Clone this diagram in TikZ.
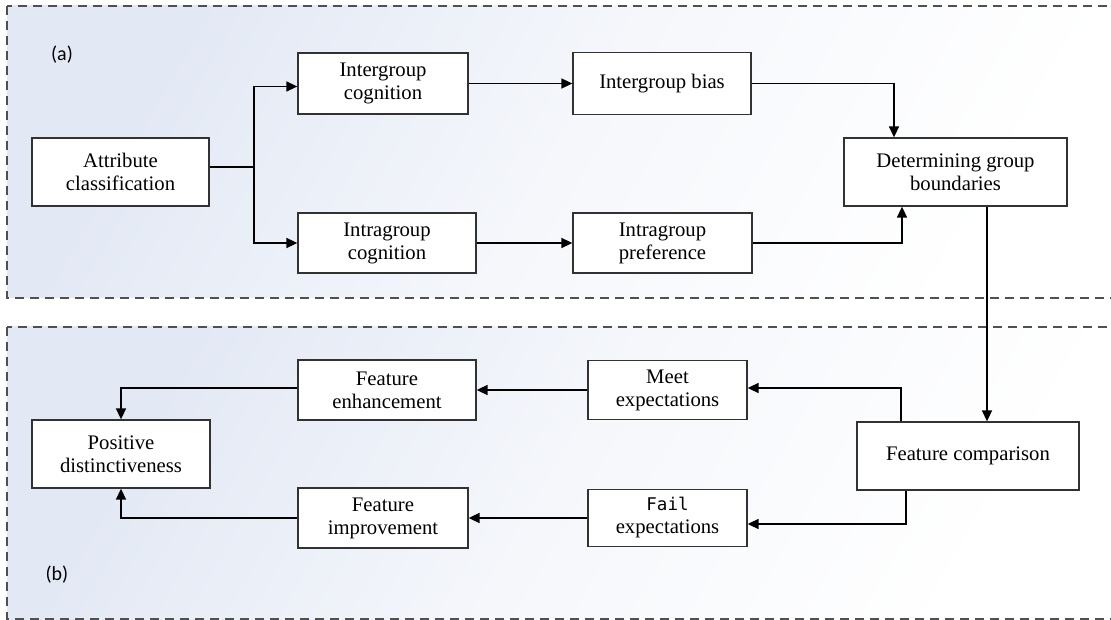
\documentclass[tikz,border=0pt]{standalone}
\usepackage{fontspec}
\setmainfont{Liberation Serif}
\newfontfamily\labfont{Carlito}
\newfontfamily\failfont{DejaVu Sans Mono}
\usetikzlibrary{arrows.meta}
\definecolor{bgblue}{RGB}{226,232,244}
\definecolor{boxline}{RGB}{50,50,50}
\definecolor{dashline}{RGB}{80,80,80}
\tikzset{
  stepbox/.style={draw=boxline, line width=1.3pt, fill=white, align=center,
    inner sep=0pt, font=\fontsize{20.7}{23}\selectfont},
  conn/.style={line width=1.6pt, black},
  arr/.style={conn, -{Triangle[length=11pt,width=10pt]}},
  panel/.style={draw=dashline, line width=1.2pt, dash pattern=on 9pt off 6pt},
  lab/.style={font=\labfont\fontsize{20}{22}\selectfont, inner sep=0pt},
  bgshade/.style={top color=bgblue, bottom color=white, middle color=bgblue!35!white, shading angle=60}
}
\begin{document}
\begin{tikzpicture}[x=1pt,y=-1pt]
\useasboundingbox (0,0) rectangle (1111,620);
\clip (0,0) rectangle (1111,620);
\fill[white] (0,0) rectangle (1111,620);
% panels
\shade[bgshade] (7,6) rectangle (1120,298);
\draw[panel] (7,6) rectangle (1120,298);
\shade[bgshade] (7,327) rectangle (1120,619);
\draw[panel] (7,327) rectangle (1120,619);
\node[lab] (la) at (62,55) {(a)};
\node[lab] (lb) at (57,575) {(b)};
% nodes
\node[stepbox, minimum width=177pt, minimum height=68pt] (attr) at (120.5,172) {Attribute\\classification};
\node[stepbox, minimum width=170pt, minimum height=61pt] (intercog) at (383,83.5) {Intergroup\\cognition};
\node[stepbox, minimum width=178pt, minimum height=60pt] (intracog) at (387,243) {Intragroup\\cognition};
\node[stepbox, minimum width=178pt, minimum height=62pt] (interbias) at (662,83.5) {Intergroup bias};
\node[stepbox, minimum width=179pt, minimum height=60pt] (intrapref) at (662.5,243) {Intragroup\\preference};
\node[stepbox, minimum width=223pt, minimum height=68pt] (dgb) at (955.5,172) {Determining group\\boundaries};
\node[stepbox, minimum width=222pt, minimum height=68pt] (fc) at (968,456) {Feature comparison};
\node[stepbox, minimum width=159pt, minimum height=59pt] (meet) at (667.5,390) {Meet\\expectations};
\node[stepbox, minimum width=159pt, minimum height=57pt] (fail) at (667.5,518) {{\failfont\fontsize{17.5}{23}\selectfont Fail}\\expectations};
\node[stepbox, minimum width=178pt, minimum height=60pt] (fenh) at (387,390) {Feature\\enhancement};
\node[stepbox, minimum width=170pt, minimum height=60pt] (fimp) at (383,518) {Feature\\improvement};
\node[stepbox, minimum width=178pt, minimum height=68pt] (pd) at (121,454) {Positive\\distinctiveness};
% connectors
\coordinate (br) at (254,167);
\draw[conn] ([yshift=5pt]attr.east) -- (br);
\draw[arr] (br) |- ([yshift=-3pt]intercog.west);
\draw[arr] (br) |- (intracog.west);
\draw[arr] (intercog.east) -- (interbias.west);
\draw[arr] (intracog.east) -- (intrapref.west);
\draw[arr] (interbias.east) -| ([xshift=-61.5pt]dgb.north);
\draw[arr] (intrapref.east) -| ([xshift=-53.5pt]dgb.south);
\draw[arr] ([xshift=31.5pt]dgb.south) -- ([xshift=31.5pt]dgb.south |- fc.north);
\draw[arr] ([xshift=-67pt]fc.north) |- ([yshift=2pt]meet.east);
\draw[arr] ([xshift=-62pt]fc.south) |- ([yshift=-6pt]fail.east);
\draw[arr] (meet.west) -- (fenh.east);
\draw[arr] (fail.west) -- (fimp.east);
\draw[arr] ([yshift=2pt]fenh.west) -| (pd.north);
\draw[arr] (fimp.west) -| (pd.south);
\end{tikzpicture}
\end{document}
